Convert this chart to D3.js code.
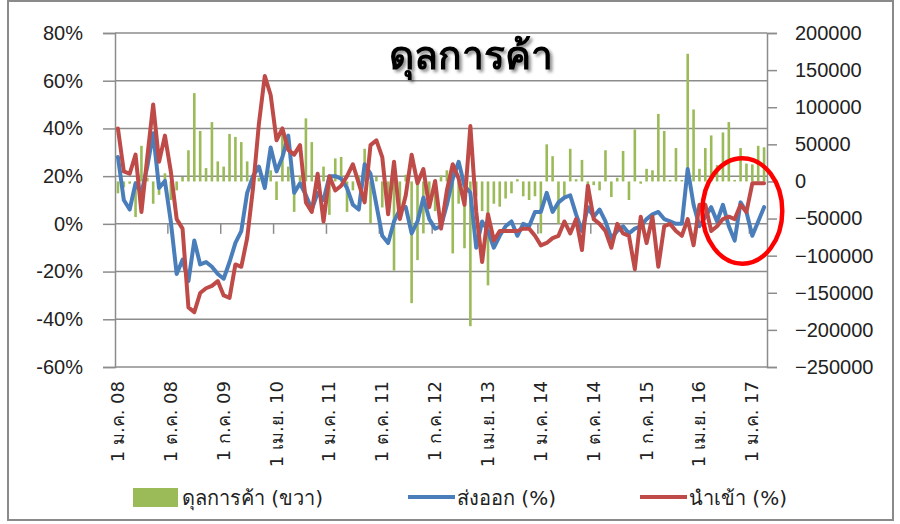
<!DOCTYPE html>
<html>
<head>
<meta charset="utf-8">
<script src="https://cdn.jsdelivr.net/npm/d3@7"></script>
<style>
  body { margin: 0; background: #fff; }
  svg { display: block; font-family: "DejaVu Sans", "Noto Sans", sans-serif; }
</style>
</head>
<body>
<svg id="chart"></svg>
<script>
// Thai month abbreviations and the covered period (Jan 2008 - Mar 2017)
var thaiMonths = ["ม.ค.", "ก.พ.", "มี.ค.", "เม.ย.", "พ.ค.", "มิ.ย.", "ก.ค.", "ส.ค.", "ก.ย.", "ต.ค.", "พ.ย.", "ธ.ค."];
var years = ["08", "09", "10", "11", "12", "13", "14", "15", "16", "17"];
var lastYearMonths = 3;

// exports growth (%)
var exportsPct = [28, 10, 6, 17, 13, 24, 38, 15, 18, 1,
  -21, -15, -24, -7, -17, -16, -18, -21, -23, -16,
  -8, -3, 13, 20, 24, 15, 32, 22, 28, 37,
  13, 17, 12, 6, 13, 10, 20, 20, 19, 15,
  8, 6, 25, 21, 8, -5, -8, 1, 6, 7,
  -4, 1, 11, 2, -2, -1, 8, 19, 26, 16,
  13, -10, 1, -3, -10, -5, -1, 1, -5, 0,
  -1, 5, 5, 13, 5, 9, 11, 12, 4, -3,
  7, 3, 6, 1, -6, -3, -1, -4, -2, -1,
  2, 4, 5, 2, 1, 0, 0, 23, 8, -1,
  3, 7, 1, 8, -1, -7, 9, 5, -5, 1, 7];

// imports growth (%)
var importsPct = [40, 22, 21, 29, 5, 28, 50, 26, 37, 22,
  2, -2, -35, -37, -29, -27, -26, -24, -30, -31,
  -17, -18, -6, 15, 42, 62, 54, 35, 40, 31,
  29, 33, 9, 5, 21, 1, 20, 14, 16, 20,
  25, 17, 9, 33, 35, 28, 4, 26, 2, 12,
  29, 17, 23, 7, 18, -2, 14, 25, 19, 8,
  41, 5, -16, 4, -7, -3, -3, -3, -3, -2,
  -2, -5, -9, -8, -6, -5, 1, -4, 2, -11,
  16, 2, 0, -3, -10, 0, -4, -5, -19, 3,
  -8, 3, -18, -1, 0, -3, -5, 2, -9, 8,
  8, -3, -1, 2, 3, 2, 8, 5, 17, 17, 17];

// trade balance (right axis)
var balance = [-16000, -8000, -3000, -48000, 48000, 5000, -30000, -18000, 11000, -25000,
  -12000, 6000, 42000, 119000, 68000, 18000, 80000, 27000, 20000, 64000,
  60000, 53000, 27000, 3000, 5000, 3000, 15000, -25000, 65000, 20000,
  -41000, 8000, 85000, 53000, 3000, 20000, -45000, 31000, 33000, -41000,
  -12000, 8000, 44000, -56000, 6000, -35000, -20000, -120000, -45000, 9000,
  -164000, -106000, -70000, -30000, -40000, 8000, 15000, -97000, -30000, -90000,
  -195000, -20000, -40000, -140000, -30000, -34000, -23000, -16000, 3000, -20000,
  -25000, -20000, -70000, 50000, 34000, -57000, -20000, 44000, 3000, 29000,
  -7000, -5000, -12000, 42000, -21000, 5000, 41000, -25000, 70000, -3000,
  17000, 15000, 91000, 68000, 2000, 45000, 2000, 172000, 97000, 17000,
  45000, 62000, 22000, 66000, 80000, 2000, 45000, 24000, 23000, 48000, 46000];

var leftTicks = [-60, -40, -20, 0, 20, 40, 60, 80];
var rightTicks = [-250000, -200000, -150000, -100000, -50000, 0, 50000, 100000, 150000, 200000];
var labelEvery = 9;

var title = "ดุลการค้า";
var legendNames = ["ดุลการค้า (ขวา)", "ส่งออก (%)", "นำเข้า (%)"];
var colors = { bar: "#9BBB59", exp: "#4A7EBB", imp: "#BE4B48", grid: "#8c8c8c", text: "#222" };

// build the monthly categories
var categories = [];
years.forEach(function(y, yi) {
    var n = (yi == years.length - 1) ? lastYearMonths : 12;
    for (var m = 0; m < n; m++) categories.push(thaiMonths[m] + " " + y);
});

var svgWidth = 900, svgHeight = 524;
var margin = { top: 33, right: 133, bottom: 157, left: 115 };
var width = svgWidth - margin.left - margin.right;
var height = svgHeight - margin.top - margin.bottom;

var svg = d3.select("#chart")
    .attr("width", svgWidth)
    .attr("height", svgHeight);

// title shadow filter
var defs = svg.append("defs");
defs.append("filter").attr("id", "shadow")
    .attr("x", "-10%").attr("y", "-20%").attr("width", "130%").attr("height", "160%")
    .append("feDropShadow")
    .attr("dx", 2.5).attr("dy", 2.5).attr("stdDeviation", 1.5)
    .attr("flood-color", "#000").attr("flood-opacity", 0.45);

// outer frame
svg.append("rect")
    .attr("x", 8).attr("y", 1)
    .attr("width", 885).attr("height", 519)
    .attr("fill", "none")
    .attr("stroke", "#8a8a8a")
    .attr("stroke-width", 2);

var g = svg.append("g")
    .attr("transform", "translate(" + margin.left + "," + margin.top + ")");

var x = d3.scaleBand().domain(categories).range([0, width]).padding(0);
var yL = d3.scaleLinear().domain([-60, 80]).range([height, 0]);
var yR = d3.scaleLinear().domain([-250000, 200000]).range([height, 0]);

function cx(i) { return x(categories[i]) + x.bandwidth() / 2; }

// left axis with gridlines
var leftAxis = g.append("g")
    .call(d3.axisLeft(yL).tickValues(leftTicks).tickFormat(function(d) { return d + "%"; })
        .tickSize(12).tickPadding(20));
leftAxis.select(".domain").attr("stroke", colors.grid).attr("stroke-width", 1.5);
leftAxis.selectAll(".tick line").attr("stroke", colors.grid).attr("stroke-width", 1.5);
leftAxis.selectAll("text").attr("font-size", "20px").attr("fill", colors.text);

g.append("g")
    .selectAll("line")
    .data(leftTicks)
    .enter().append("line")
    .attr("x1", 0).attr("x2", width)
    .attr("y1", function(d) { return yL(d); })
    .attr("y2", function(d) { return yL(d); })
    .attr("stroke", colors.grid)
    .attr("stroke-width", 1.5);

// right axis
var rightAxis = g.append("g")
    .attr("transform", "translate(" + width + ",0)")
    .call(d3.axisRight(yR).tickValues(rightTicks).tickFormat(d3.format("d"))
        .tickSize(10).tickPadding(18));
rightAxis.select(".domain").attr("stroke", colors.grid).attr("stroke-width", 1.5);
rightAxis.selectAll(".tick line").attr("stroke", colors.grid).attr("stroke-width", 1.5);
rightAxis.selectAll("text").attr("font-size", "20px").attr("fill", colors.text);

// category axis sits on 0%, labels at bottom
var tickIdx = d3.range(labelEvery, categories.length, labelEvery);
g.append("g")
    .selectAll("line")
    .data(tickIdx)
    .enter().append("line")
    .attr("x1", function(i) { return x(categories[i]); })
    .attr("x2", function(i) { return x(categories[i]); })
    .attr("y1", yL(0))
    .attr("y2", yL(0) + 10)
    .attr("stroke", colors.grid)
    .attr("stroke-width", 1.5);

var labelIdx = d3.range(0, categories.length, labelEvery);
g.append("g")
    .selectAll("text")
    .data(labelIdx)
    .enter().append("text")
    .attr("transform", function(i) { return "translate(" + (cx(i) + 6) + "," + (height + 14) + ") rotate(-90)"; })
    .attr("text-anchor", "end")
    .attr("font-size", "18px")
    .attr("fill", colors.text)
    .text(function(i) { return "1 " + categories[i]; });

// trade balance bars
g.append("g")
    .selectAll("rect")
    .data(balance)
    .enter().append("rect")
    .attr("x", function(d, i) { return cx(i) - 1.3; })
    .attr("width", 2.6)
    .attr("y", function(d) { return yR(Math.max(0, d)); })
    .attr("height", function(d) { return Math.max(1.5, Math.abs(yR(d) - yR(0))); })
    .attr("fill", colors.bar);

var line = d3.line()
    .x(function(d, i) { return cx(i); })
    .y(function(d) { return yL(d); });

g.append("path")
    .datum(exportsPct)
    .attr("fill", "none")
    .attr("stroke", colors.exp)
    .attr("stroke-width", 4)
    .attr("stroke-linejoin", "round")
    .attr("stroke-linecap", "round")
    .attr("d", line);

g.append("path")
    .datum(importsPct)
    .attr("fill", "none")
    .attr("stroke", colors.imp)
    .attr("stroke-width", 4)
    .attr("stroke-linejoin", "round")
    .attr("stroke-linecap", "round")
    .attr("d", line);

// red circle annotation around the last months
var ringFrom = 100, ringTo = 113.6, ringTop = 27.5, ringBottom = -16.7;
var bw = x.bandwidth();
g.append("ellipse")
    .attr("cx", (ringFrom + ringTo) / 2 * bw)
    .attr("cy", (yL(ringTop) + yL(ringBottom)) / 2)
    .attr("rx", (ringTo - ringFrom) / 2 * bw)
    .attr("ry", (yL(ringBottom) - yL(ringTop)) / 2)
    .attr("fill", "none")
    .attr("stroke", "#ff0000")
    .attr("stroke-width", 4.5);

// title
svg.append("text")
    .attr("x", 471).attr("y", 69)
    .attr("text-anchor", "middle")
    .attr("font-size", "39px")
    .attr("font-weight", "bold")
    .attr("fill", "#000")
    .attr("filter", "url(#shadow)")
    .text(title);

// legend
var legend = svg.append("g").attr("transform", "translate(0,497)");
legend.append("rect")
    .attr("x", 133).attr("y", -9).attr("width", 45).attr("height", 19)
    .attr("fill", colors.bar);
legend.append("line")
    .attr("x1", 408).attr("x2", 455).attr("y1", 0).attr("y2", 0)
    .attr("stroke", colors.exp).attr("stroke-width", 4);
legend.append("line")
    .attr("x1", 640).attr("x2", 687).attr("y1", 0).attr("y2", 0)
    .attr("stroke", colors.imp).attr("stroke-width", 4);
var legendX = [182, 457, 689];
legend.selectAll("text.lg")
    .data(legendNames)
    .enter().append("text")
    .attr("class", "lg")
    .attr("x", function(d, i) { return legendX[i]; })
    .attr("y", 8)
    .attr("font-size", "20px")
    .attr("fill", colors.text)
    .text(function(d) { return d; });
</script>
</body>
</html>
